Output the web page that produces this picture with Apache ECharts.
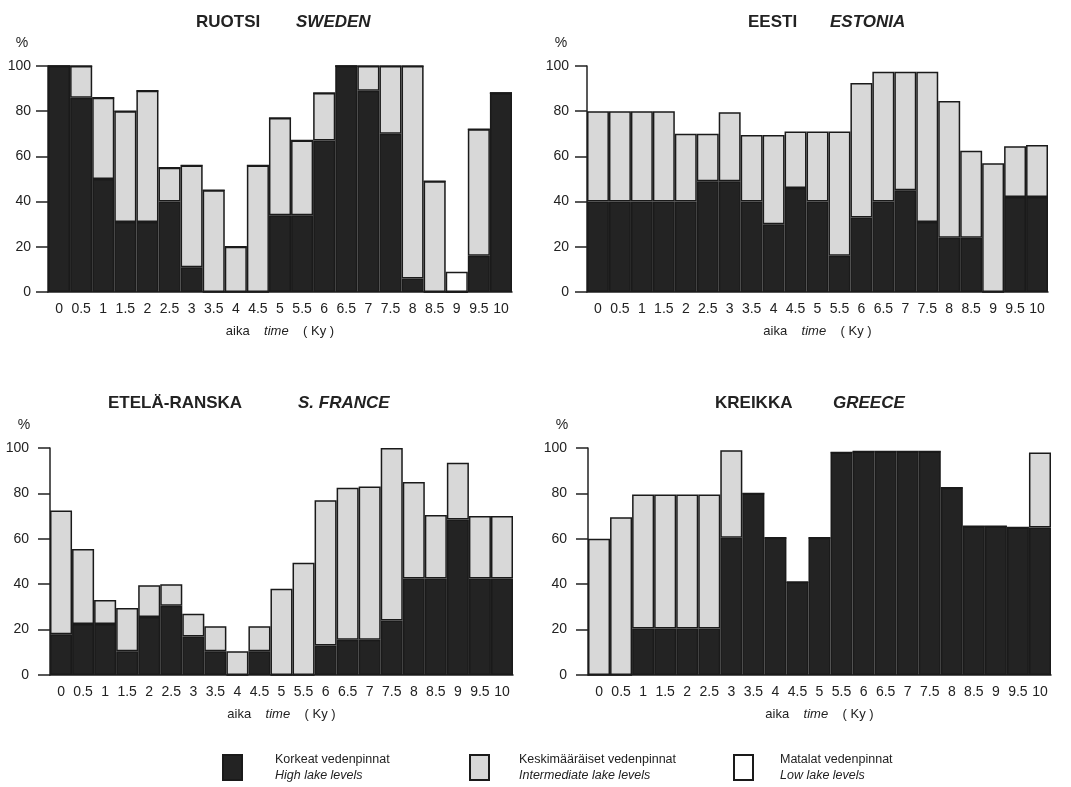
<!DOCTYPE html>
<html>
<head>
<meta charset="utf-8">
<script src="https://cdn.jsdelivr.net/npm/echarts@6/dist/echarts.min.js"></script>
<style>
  body { margin: 0; background: #fff; }
  #chart { width: 1071px; height: 787px; }
</style>
</head>
<body>
<div id="chart"></div>
<script>
// time steps (Ky)
const timeLabels = ['0', '0.5', '1', '1.5', '2', '2.5', '3', '3.5', '4', '4.5', '5',
  '5.5', '6', '6.5', '7', '7.5', '8', '8.5', '9', '9.5', '10'];

// share of lakes (%) - high levels at bottom, intermediate stacked on top
const swedenHigh = [100, 86, 50, 31, 31, 40, 11, 0, 0, 0, 34, 34, 67, 100, 89, 70, 6, 0, 0, 16, 88];
const swedenMid = [0, 14, 36, 49, 58, 15, 45, 45, 20, 56, 43, 33, 21, 0, 11, 30, 94, 49, 0, 56, 0];
const swedenLow = [0, 0, 0, 0, 0, 0, 0, 0, 0, 0, 0, 0, 0, 0, 0, 0, 0, 0, 9, 0, 0];

const estoniaHigh = [40, 40, 40, 40, 40, 49, 49, 40, 30, 46, 40, 16, 33, 40, 45, 31, 24, 24, 0, 42, 42];
const estoniaMid = [40, 40, 40, 40, 30, 21, 30.5, 29.5, 39.5, 25, 31, 55, 59.5, 57.5, 52.5, 66.5, 60.5, 38.5, 57, 22.5, 23];

const franceHigh = [18, 22.5, 22.5, 10.5, 25.5, 30.5, 17, 10.5, 0, 10.5, 0, 0, 13, 15.5, 15.5, 24, 42.5, 42.5, 68.5, 42.5, 42.5];
const franceMid = [54.5, 33, 10.5, 19, 14, 9.5, 10, 11, 10.5, 11, 38, 49.5, 64, 67, 67.5, 76, 42.5, 28, 25, 27.5, 27.5];

const greeceHigh = [0, 0, 20.5, 20.5, 20.5, 20.5, 60.5, 80, 60.5, 41, 60.5, 98, 98.5, 98.5, 98.5, 98.5, 82.5, 65.5, 65.5, 65, 65];
const greeceMid = [60, 69.5, 59, 59, 59, 59, 38.5, 0, 0, 0, 0, 0, 0, 0, 0, 0, 0, 0, 0, 0, 33];

const legendFi = ['Korkeat vedenpinnat', 'Keskimääräiset vedenpinnat', 'Matalat vedenpinnat'];
const legendEn = ['High lake levels', 'Intermediate lake levels', 'Low lake levels'];

const FONT = "'Liberation Sans', Arial, sans-serif";

const panels = [
  { fi: 'RUOTSI', en: 'SWEDEN', high: swedenHigh, mid: swedenMid, low: swedenLow,
    grid: { left: 48, top: 66, width: 464, height: 226 }, fiX: 191, enX: 291, titleY: 9, margin: 17 },
  { fi: 'EESTI', en: 'ESTONIA', high: estoniaHigh, mid: estoniaMid,
    grid: { left: 587, top: 66, width: 461, height: 226 }, fiX: 743, enX: 825, titleY: 9, margin: 18 },
  { fi: 'ETELÄ-RANSKA', en: 'S. FRANCE', high: franceHigh, mid: franceMid,
    grid: { left: 50, top: 448, width: 463, height: 227 }, fiX: 103, enX: 293, titleY: 390, margin: 21 },
  { fi: 'KREIKKA', en: 'GREECE', high: greeceHigh, mid: greeceMid,
    grid: { left: 588, top: 448, width: 463, height: 227 }, fiX: 710, enX: 828, titleY: 390, margin: 21 }
];

const colors = { high: '#232323', mid: '#d8d8d8', low: '#ffffff' };

const titles = [];
const grids = [];
const xAxes = [];
const yAxes = [];
const series = [];

panels.forEach((p, i) => {
  titles.push({ text: p.fi, left: p.fiX, top: p.titleY,
    textStyle: { fontFamily: FONT, fontSize: 17, fontWeight: 'bold', color: '#222' } });
  titles.push({ text: p.en, left: p.enX, top: p.titleY,
    textStyle: { fontFamily: FONT, fontSize: 17, fontWeight: 'bold', fontStyle: 'italic', color: '#222' } });
  grids.push(p.grid);
  xAxes.push({
    type: 'category', gridIndex: i, data: timeLabels,
    axisLine: { lineStyle: { color: '#222', width: 1.5 } },
    axisTick: { show: false },
    axisLabel: { interval: 0, margin: 10, fontFamily: FONT, fontSize: 14, color: '#222' },
    name: 'aika    {i|time}    ( Ky )', nameLocation: 'middle', nameGap: 33,
    nameTextStyle: { fontFamily: FONT, fontSize: 13, color: '#222',
      rich: { i: { fontFamily: FONT, fontSize: 13, fontStyle: 'italic', color: '#222' } } }
  });
  yAxes.push({
    type: 'value', gridIndex: i, min: 0, max: 100, interval: 20,
    splitLine: { show: false },
    axisLine: { show: true, lineStyle: { color: '#222', width: 1.5 } },
    axisTick: { show: true, length: 12, lineStyle: { color: '#222', width: 1.5 } },
    axisLabel: { margin: p.margin, fontFamily: FONT, fontSize: 14, color: '#222' },
    name: '%', nameLocation: 'end', nameGap: 16,
    nameTextStyle: { fontFamily: FONT, fontSize: 14, color: '#222', align: 'center', padding: [0, 52, 0, 0] }
  });
  const parts = [['high', p.high], ['mid', p.mid]];
  if (p.low) parts.push(['low', p.low]);
  parts.forEach(([key, data]) => {
    series.push({
      name: key, type: 'bar', stack: 'p' + i, xAxisIndex: i, yAxisIndex: i,
      barCategoryGap: '0%', data: data,
      itemStyle: { color: colors[key], borderColor: '#1a1a1a', borderWidth: 1.5 }
    });
  });
});

const legendKeys = ['high', 'mid', 'low'];
const legendLeft = [222, 469, 733];
const legendPad = [28, 25, 22];
const legends = legendKeys.map((k, j) => ({
  data: [k], left: legendLeft[j], top: 753, padding: 0,
  itemWidth: 19, itemHeight: 25, icon: 'rect', selectedMode: false,
  formatter: () => '{a|' + legendFi[j] + '}\n{b|' + legendEn[j] + '}',
  textStyle: {
    rich: {
      a: { fontFamily: FONT, fontSize: 12.5, color: '#222', lineHeight: 16, padding: [0, 0, 0, legendPad[j]] },
      b: { fontFamily: FONT, fontSize: 12.5, fontStyle: 'italic', color: '#222', lineHeight: 16, padding: [0, 0, 0, legendPad[j]] }
    }
  }
}));

const chart = echarts.init(document.getElementById('chart'));
chart.setOption({
  backgroundColor: '#fff',
  animation: false,
  title: titles,
  legend: legends,
  grid: grids,
  xAxis: xAxes,
  yAxis: yAxes,
  series: series
});
</script>
</body>
</html>
